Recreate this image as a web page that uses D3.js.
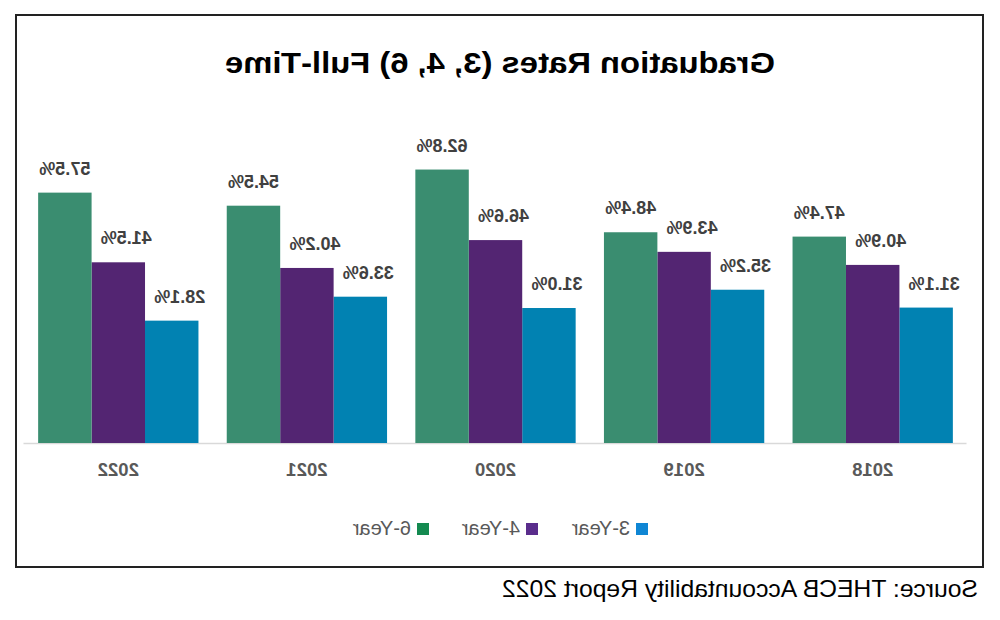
<!DOCTYPE html>
<html>
<head>
<meta charset="utf-8">
<script src="https://cdn.jsdelivr.net/npm/d3@7"></script>
<style>
  html, body { margin: 0; padding: 0; background: #fff; }
  svg { display: block; }
</style>
</head>
<body>
<svg id="chart" width="1000" height="620"></svg>
<script>
// ---- data ----
const years = ["2018", "2019", "2020", "2021", "2022"];
const seriesNames = ["3-Year", "4-Year", "6-Year"];
const rate3 = [31.1, 35.2, 31.0, 33.6, 28.1];
const rate4 = [40.9, 43.9, 46.6, 40.2, 41.5];
const rate6 = [47.4, 48.4, 62.8, 54.5, 57.5];
const titleText = "Graduation Rates (3, 4, 6) Full-Time";
const sourceText = "Source: THECB Accountability Report 2022";

const seriesValues = [rate3, rate4, rate6];
const barColors = ["#0182b2", "#532572", "#3a8d70"];
const legendColors = ["#0f86d4", "#5a2d8c", "#148a50"];
const labelShift = [-8, -8, 0];

const svg = d3.select("#chart");
svg.append("rect").attr("width", 1000).attr("height", 620).attr("fill", "#fff");

// The reference picture is mirrored horizontally
const root = svg.append("g").attr("transform", "translate(1000,0) scale(-1,1)");

// frame
root.append("rect")
  .attr("x", 17).attr("y", 15).attr("width", 967).attr("height", 552)
  .attr("fill", "none").attr("stroke", "#222").attr("stroke-width", 2);

// title
root.append("text")
  .attr("x", 500).attr("y", 73)
  .attr("text-anchor", "middle")
  .attr("font-family", "'Liberation Sans', Arial, sans-serif")
  .attr("font-weight", "bold")
  .attr("font-size", 30)
  .attr("fill", "#000")
  .attr("textLength", 550)
  .attr("lengthAdjust", "spacingAndGlyphs")
  .text(titleText);

// scales
const x0 = d3.scaleBand().domain(years).range([33, 976]).paddingInner(0.15).paddingOuter(0.075);
const x1 = d3.scaleBand().domain(seriesNames).range([0, x0.bandwidth()]).padding(0);
const y = d3.scaleLinear().domain([0, 70]).range([443, 138.2]);

// baseline axis
const xAxis = d3.axisBottom(x0).tickSize(0).tickPadding(0);
const axisG = root.append("g").attr("transform", `translate(0,${y(0)})`).call(xAxis);
axisG.select(".domain").attr("stroke", "#d9d9d9").attr("stroke-width", 1.5);
axisG.selectAll(".tick text")
  .attr("dy", 0).attr("y", 33)
  .attr("font-family", "'Liberation Sans', Arial, sans-serif")
  .attr("font-weight", "bold")
  .attr("font-size", 18.5)
  .attr("fill", "#595959");

// bars
const groups = root.selectAll(".grp").data(years).enter().append("g")
  .attr("class", "grp")
  .attr("transform", d => `translate(${x0(d)},0)`);

seriesNames.forEach((s, si) => {
  groups.append("rect")
    .attr("x", x1(s))
    .attr("width", x1.bandwidth())
    .attr("y", (d, i) => y(seriesValues[si][i]))
    .attr("height", (d, i) => y(0) - y(seriesValues[si][i]))
    .attr("fill", barColors[si]);
  groups.append("text")
    .attr("x", x1(s) + x1.bandwidth() / 2 + labelShift[si])
    .attr("y", (d, i) => y(seriesValues[si][i]) - 18)
    .attr("text-anchor", "middle")
    .attr("font-family", "'Liberation Sans', Arial, sans-serif")
    .attr("font-weight", "bold")
    .attr("font-size", 18)
    .attr("fill", "#404040")
    .text((d, i) => seriesValues[si][i].toFixed(1) + "%");
});

// legend
const legendX = [352, 462, 571];
const leg = root.append("g");
seriesNames.forEach((s, si) => {
  leg.append("rect")
    .attr("x", legendX[si]).attr("y", 523).attr("width", 12).attr("height", 12)
    .attr("fill", legendColors[si]);
  leg.append("text")
    .attr("x", legendX[si] + 18).attr("y", 535)
    .attr("font-family", "'Liberation Sans', Arial, sans-serif")
    .attr("font-size", 20)
    .attr("fill", "#595959")
    .text(s);
});

// source
root.append("text")
  .attr("x", 22).attr("y", 597)
  .attr("font-family", "'Liberation Sans', Arial, sans-serif")
  .attr("font-size", 24)
  .attr("fill", "#000")
  .attr("textLength", 476)
  .attr("lengthAdjust", "spacingAndGlyphs")
  .text(sourceText);
</script>
</body>
</html>
